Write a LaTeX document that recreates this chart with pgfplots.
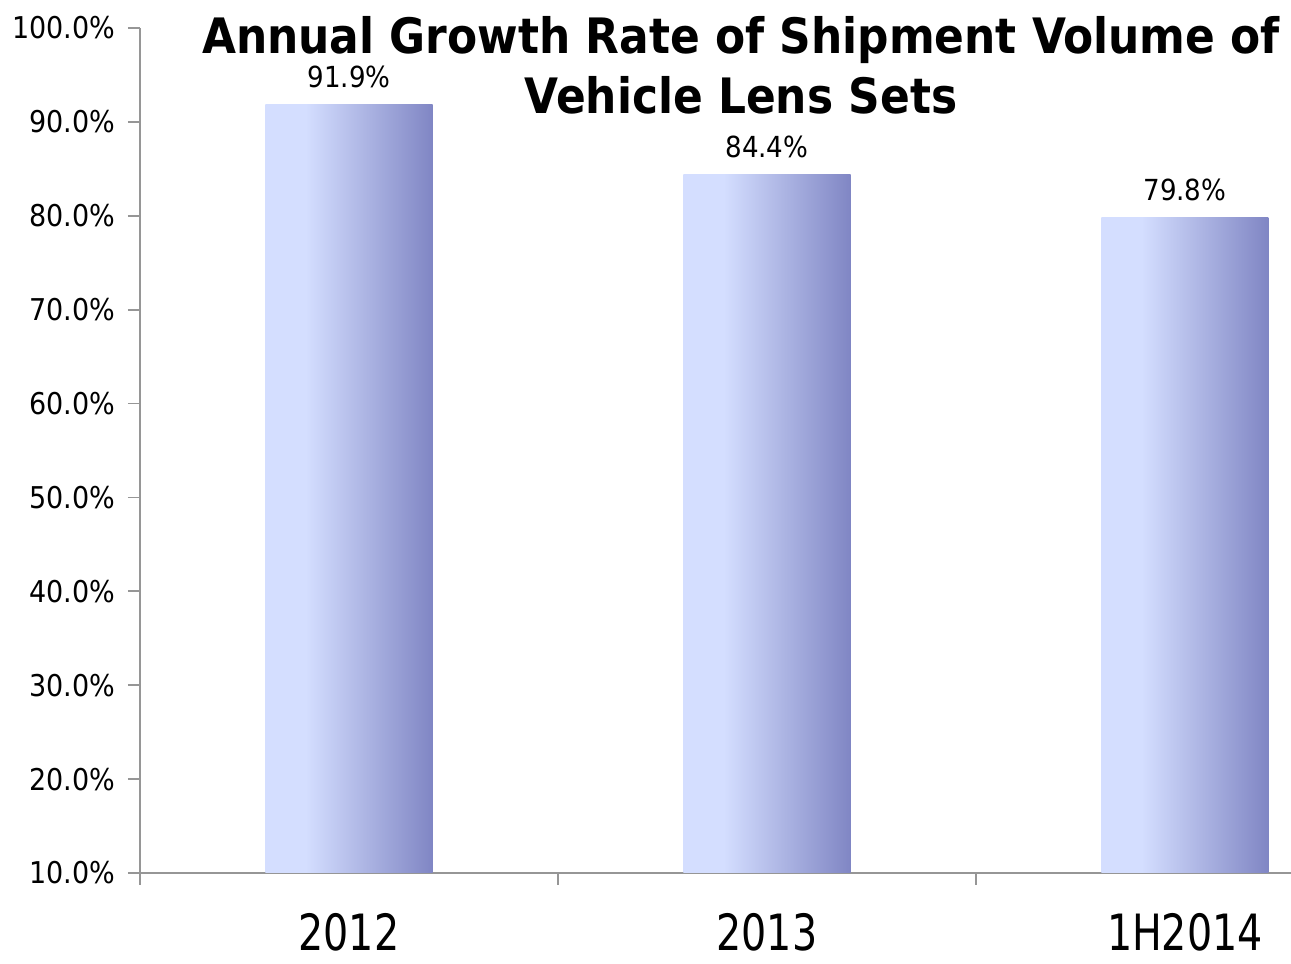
\documentclass[border=0pt]{standalone}
\usepackage{fontspec}
\setmainfont{DejaVu Sans Condensed}
\newfontfamily\narrowfont[FakeStretch=0.88]{DejaVu Sans Condensed}
\usepackage{pgfplots}
\pgfplotsset{compat=1.18}
\definecolor{barlight}{RGB}{212,222,255}
\definecolor{bardark}{RGB}{128,134,196}
\definecolor{axgray}{RGB}{150,150,150}
\pgfdeclarehorizontalshading{barshade}{100bp}{color(0bp)=(barlight); color(25bp)=(barlight); color(37bp)=(barlight); color(75bp)=(bardark); color(100bp)=(bardark)}
\begin{document}
\begin{tikzpicture}
\begin{axis}[
  scale only axis,
  width=575.5pt, height=422.5pt,
  xmin=-0.5, xmax=2.254,
  ymin=10, ymax=100,
  ytick={10,20,...,100},
  xtick={-0.5,0.5,1.5},
  xticklabels={},
  extra x ticks={0,1,2},
  extra x tick labels={2012,2013,1H2014},
  extra x tick style={major tick length=0pt, tick label style={font=\narrowfont\fontsize{25}{29}\selectfont, yshift=-19pt, inner sep=1pt}},
  axis x line*=bottom, axis y line*=left,
  axis line style={draw=axgray, line width=0.9pt, -},
  tick style={draw=axgray, line width=0.9pt},
  tick align=outside,
  major tick length=6pt,
  yticklabel={\pgfmathprintnumber[fixed,fixed zerofill,precision=1]{\tick}\%},
  yticklabel style={font=\fontsize{15}{17}\selectfont, xshift=-3pt},
  /pgf/number format/assume math mode=true,
  ybar, bar width=0.4, bar shift=0pt,
  nodes near coords={\pgfmathprintnumber[fixed,fixed zerofill,precision=1]{\pgfplotspointmeta}\%},
  nodes near coords style={font=\fontsize{14.5}{16}\selectfont, yshift=7pt, inner sep=1pt},
  clip=false,
]
\addplot[draw=none, shading=barshade] coordinates {(0,91.9)};
\addplot[draw=none, shading=barshade] coordinates {(1,84.4)};
\addplot[draw=none, shading=barshade] coordinates {(2,79.8)};
\end{axis}
\node[font=\bfseries\fontsize{24.4}{30}\selectfont, align=center, anchor=north, inner sep=1pt] at ([shift={(300.5pt,7pt)}]current axis.north west) {Annual Growth Rate of Shipment Volume of\\Vehicle Lens Sets};
\pgfresetboundingbox
\path[use as bounding box] ([shift={(-70pt,-45.5pt)}]current axis.south west) rectangle ([shift={(0pt,14pt)}]current axis.north east);
\end{tikzpicture}
\end{document}
